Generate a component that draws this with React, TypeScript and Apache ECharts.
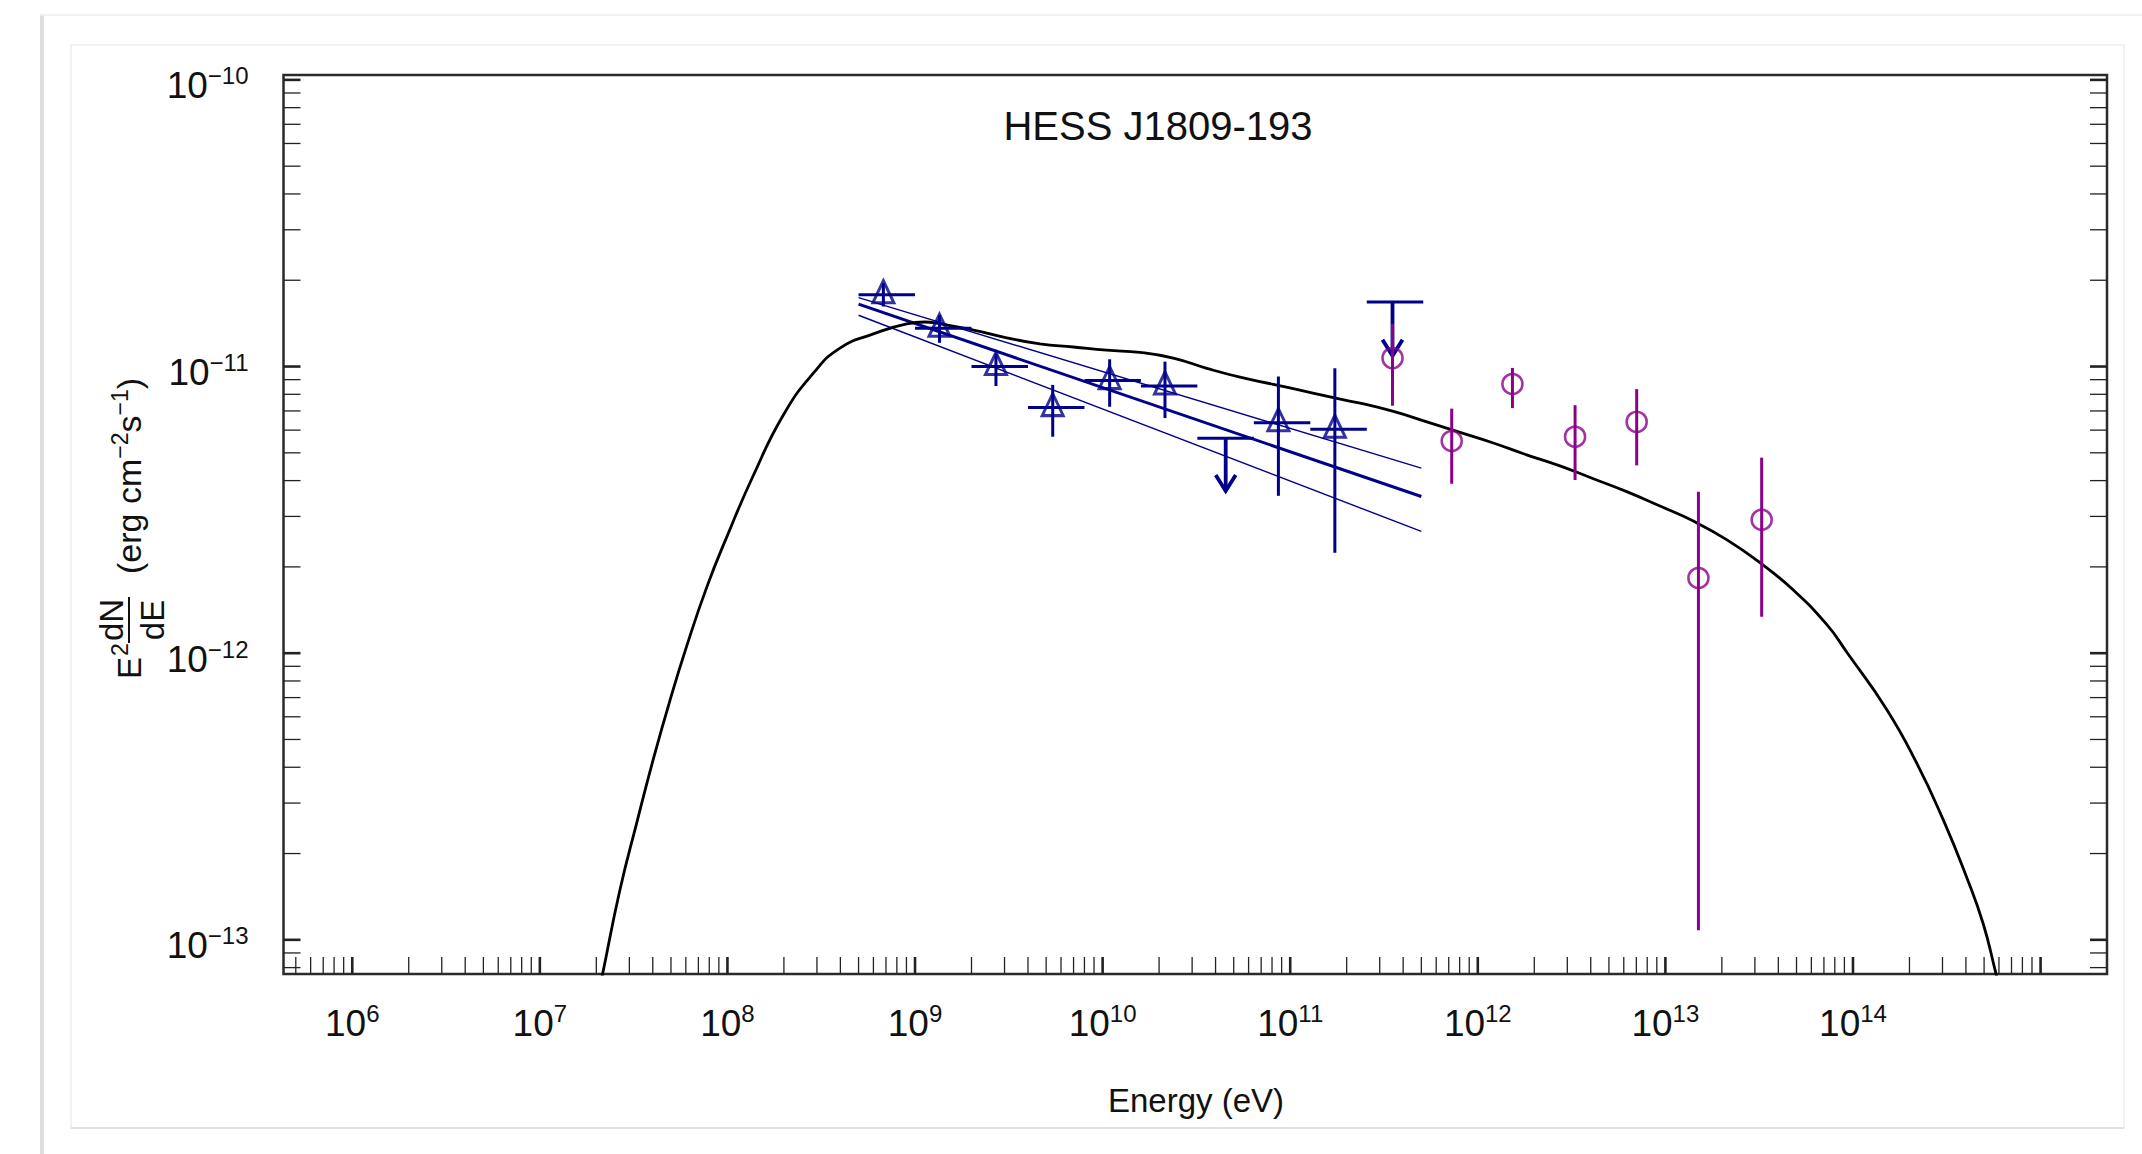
import React, { useEffect, useRef } from "react";
import * as echarts from "echarts";

// ---------------- data ----------------
// Fermi-LAT flux points (navy triangles)
const fermiEnergy = [6.78e8, 1.35e9, 2.7e9, 5.42e9, 1.09e10, 2.15e10, 8.65e10, 1.73e11];
const fermiFlux = [1.78e-11, 1.36e-11, 1.0e-11, 7.19e-12, 8.93e-12, 8.55e-12, 6.37e-12, 6.04e-12];
const fermiFluxLow = [1.62e-11, 1.21e-11, 8.55e-12, 5.69e-12, 7.24e-12, 6.61e-12, 3.54e-12, 2.24e-12];
const fermiFluxHigh = [1.95e-11, 1.51e-11, 1.11e-11, 8.63e-12, 1.06e-11, 1.04e-11, 9.23e-12, 9.86e-12];
const fermiBinLow = [5e8, 1e9, 2e9, 4e9, 8e9, 1.6e10, 6.4e10, 1.28e11];
const fermiBinHigh = [1e9, 2e9, 4e9, 8e9, 1.6e10, 3.2e10, 1.28e11, 2.56e11];

// Fermi-LAT upper limits
const ulEnergy = [4.53e10, 3.51e11];
const ulFlux = [5.62e-12, 1.68e-11];
const ulArrowEnd = [3.68e-12, 1.09e-11];
const ulBinLow = [3.2e10, 2.56e11];
const ulBinHigh = [6.4e10, 5.12e11];

// H.E.S.S. points (purple circles)
const hessEnergy = [3.51e11, 7.26e11, 1.53e12, 3.3e12, 7.03e12, 1.5e13, 3.26e13];
const hessFlux = [1.07e-11, 5.5e-12, 8.69e-12, 5.69e-12, 6.41e-12, 1.83e-12, 2.92e-12];
const hessFluxLow = [7.3e-12, 3.9e-12, 7.16e-12, 4.02e-12, 4.52e-12, 1.08e-13, 1.34e-12];
const hessFluxHigh = [1.41e-11, 7.13e-12, 9.89e-12, 7.33e-12, 8.34e-12, 3.66e-12, 4.81e-12];

// power-law fit lines (best + two bounds)
const fitEnergy = [5e8, 5e11];
const fitBest = [1.65e-11, 3.52e-12];
const fitUpper = [1.74e-11, 4.42e-12];
const fitLower = [1.51e-11, 2.66e-12];

// model SED curve (black)
const modelEnergy = [
  1.95e7, 2.16e7, 2.67e7, 3.29e7, 4.03e7, 4.94e7, 6.07e7, 7.76e7, 9.91e7, 1.37e8, 1.99e8, 2.87e8,
  3.98e8, 6.0e8, 9.04e8, 1.12e9, 1.36e9, 2.05e9, 3.08e9, 4.63e9, 6.98e9, 1.05e10, 1.58e10, 2.38e10,
  3.59e10, 5.4e10, 8.13e10, 1.22e11, 1.85e11, 2.36e11, 3.55e11, 5.35e11, 8.04e11, 1.21e12, 1.82e12,
  2.74e12, 4.13e12, 6.22e12, 9.36e12, 1.41e13, 2.12e13, 3.19e13, 4.81e13, 7.24e13, 9.25e13, 1.51e14,
  2.18e14, 3.03e14, 4.04e14, 4.94e14, 5.71e14, 6.31e14,
];
const modelFlux = [
  5.5e-14, 7.6e-14, 1.49e-13, 2.57e-13, 4.28e-13, 6.85e-13, 1.06e-12, 1.7e-12, 2.54e-12, 4.15e-12,
  6.79e-12, 9.48e-12, 1.16e-11, 1.3e-11, 1.41e-11, 1.43e-11, 1.41e-11, 1.34e-11, 1.26e-11, 1.2e-11,
  1.17e-11, 1.14e-11, 1.12e-11, 1.07e-11, 9.86e-12, 9.18e-12, 8.67e-12, 8.17e-12, 7.69e-12, 7.45e-12,
  6.97e-12, 6.41e-12, 5.89e-12, 5.41e-12, 4.92e-12, 4.5e-12, 4.06e-12, 3.66e-12, 3.26e-12, 2.89e-12,
  2.49e-12, 2.07e-12, 1.66e-12, 1.26e-12, 1.01e-12, 6.38e-13, 4.15e-13, 2.62e-13, 1.65e-13, 1.14e-13,
  7.89e-14, 6.03e-14,
];

// axes
const xMin = 4.3e5;
const xMax = 2.26e15;
const yMin = 7.6e-14;
const yMax = 1.04e-10;
const xLabelExponents = [6, 7, 8, 9, 10, 11, 12, 13, 14];
const yLabelExponents = [-13, -12, -11, -10];
const xTickDecades = [5, 6, 7, 8, 9, 10, 11, 12, 13, 14, 15];
const yTickDecades = [-14, -13, -12, -11, -10];
const tickMultipliers = [1, 2, 3, 4, 5, 6, 7, 8, 9];
const xTickLast = 1e15;

const titleText = "HESS J1809-193";
const xTitle = "Energy (eV)";

// ---------------- style ----------------
const F = "'Liberation Sans', Arial, Helvetica, sans-serif";
const BLUE = "#00008B";
const MAG = "#8B008B";
const INK = "#111111";

function makeTicks(decades: number[], lo: number, hi: number) {
  const out: number[][] = [];
  decades.forEach((d) => {
    tickMultipliers.forEach((m) => {
      const v = m * Math.pow(10, d);
      if (v > lo * 1.0001 && v < hi * 1.0001) out.push([v, m === 1 ? 1 : 0]);
    });
  });
  return out;
}

const labelRich = {
  b: { fontSize: 37, fontFamily: F, color: INK, lineHeight: 44 },
  s: { fontSize: 24, fontFamily: F, color: INK, lineHeight: 24, verticalAlign: "top" },
};

export default function App() {
  const ref = useRef<HTMLDivElement>(null);

  useEffect(() => {
    if (!ref.current) return;
    const chart = echarts.init(ref.current, undefined, { renderer: "svg" });

    const xTicks = makeTicks(xTickDecades, xMin, xTickLast).map((t) => [t[0], 1e-12, t[1]]);
    const yTicks = makeTicks(yTickDecades, yMin, yMax).map((t) => [1e8, t[0], t[1]]);

    const option: any = {
      animation: false,
      backgroundColor: "#ffffff",
      grid: {
        left: 283.5,
        top: 75,
        width: 1823.5,
        height: 899,
        show: true,
        borderColor: "#2a2a2a",
        borderWidth: 2.5,
        backgroundColor: "transparent",
      },
      xAxis: {
        type: "log",
        logBase: 10,
        min: xMin,
        max: xMax,
        axisLine: { show: false },
        axisTick: { show: false },
        axisLabel: { show: false },
        splitLine: { show: false },
      },
      yAxis: {
        type: "log",
        logBase: 10,
        min: yMin,
        max: yMax,
        axisLine: { show: false },
        axisTick: { show: false },
        axisLabel: { show: false },
        splitLine: { show: false },
      },
      graphic: [
        // page decorations (screenshot frame)
        { type: "rect", shape: { x: 40, y: 15, width: 4, height: 1139 }, style: { fill: "#dedede" }, silent: true },
        { type: "line", shape: { x1: 40, y1: 15, x2: 2142, y2: 15 }, style: { stroke: "#ececec", lineWidth: 1.5 }, silent: true },
        { type: "rect", shape: { x: 71, y: 45, width: 2053, height: 1083 }, style: { fill: "none", stroke: "#eeeeee", lineWidth: 1.5 }, silent: true },
        { type: "line", shape: { x1: 71, y1: 1128, x2: 2124, y2: 1128 }, style: { stroke: "#dddddd", lineWidth: 1.5 }, silent: true },
        // title
        {
          type: "text", x: 1158, y: 126,
          style: { text: titleText, fontSize: 40, fontFamily: F, fill: INK, align: "center", verticalAlign: "middle", textAlign: "center", textVerticalAlign: "middle" },
        },
        // x title
        {
          type: "text", x: 1196, y: 1100,
          style: { text: xTitle, fontSize: 33, fontFamily: F, fill: INK, align: "center", verticalAlign: "middle", textAlign: "center", textVerticalAlign: "middle" },
        },
        // y title: E^2 dN/dE (erg cm^-2 s^-1), rotated
        {
          type: "text", x: 129, y: 679, rotation: Math.PI / 2,
          style: { text: "E", fontSize: 33, fontFamily: F, fill: INK, align: "left", verticalAlign: "middle", textAlign: "left", textVerticalAlign: "middle" },
        },
        {
          type: "text", x: 120, y: 656, rotation: Math.PI / 2,
          style: { text: "2", fontSize: 23, fontFamily: F, fill: INK, align: "left", verticalAlign: "middle", textAlign: "left", textVerticalAlign: "middle" },
        },
        {
          type: "text", x: 111, y: 620, rotation: Math.PI / 2,
          style: { text: "dN", fontSize: 33, fontFamily: F, fill: INK, align: "center", verticalAlign: "middle", textAlign: "center", textVerticalAlign: "middle" },
        },
        { type: "line", shape: { x1: 129, y1: 597, x2: 129, y2: 643 }, style: { stroke: INK, lineWidth: 2 } },
        {
          type: "text", x: 152, y: 620, rotation: Math.PI / 2,
          style: { text: "dE", fontSize: 33, fontFamily: F, fill: INK, align: "center", verticalAlign: "middle", textAlign: "center", textVerticalAlign: "middle" },
        },
        {
          type: "text", x: 129, y: 574, rotation: Math.PI / 2,
          style: {
            text: "{a|(erg cm}{s|\u22122}{a|s}{s|\u22121}{a|)}",
            align: "left", verticalAlign: "middle", textAlign: "left", textVerticalAlign: "middle",
            fill: INK,
            rich: {
              a: { fontSize: 34, fontFamily: F, color: INK, lineHeight: 42 },
              s: { fontSize: 23, fontFamily: F, color: INK, lineHeight: 23, verticalAlign: "top" },
            },
          },
        },
      ],
      series: [
        // fit lines
        {
          type: "line", data: fitEnergy.map((e, i) => [e, fitUpper[i]]), showSymbol: false, silent: true,
          lineStyle: { color: BLUE, width: 1.4 }, z: 2,
        },
        {
          type: "line", data: fitEnergy.map((e, i) => [e, fitLower[i]]), showSymbol: false, silent: true,
          lineStyle: { color: BLUE, width: 1.4 }, z: 2,
        },
        {
          type: "line", data: fitEnergy.map((e, i) => [e, fitBest[i]]), showSymbol: false, silent: true,
          lineStyle: { color: BLUE, width: 3 }, z: 2,
        },
        // model curve
        {
          type: "line", data: modelEnergy.map((e, i) => [e, modelFlux[i]]), showSymbol: false, silent: true,
          smooth: 0.5, lineStyle: { color: "#000000", width: 2.8 }, z: 3,
        },
        // Fermi error bars
        {
          type: "custom", silent: true, z: 4,
          data: fermiEnergy.map((e, i) => [e, fermiFlux[i], fermiBinLow[i], fermiBinHigh[i], fermiFluxLow[i], fermiFluxHigh[i]]),
          renderItem: (params: any, api: any) => {
            const c = api.coord([api.value(0), api.value(1)]);
            const l = api.coord([api.value(2), api.value(1)]);
            const r = api.coord([api.value(3), api.value(1)]);
            const b = api.coord([api.value(0), api.value(4)]);
            const t = api.coord([api.value(0), api.value(5)]);
            return {
              type: "group",
              children: [
                { type: "line", shape: { x1: l[0], y1: c[1], x2: r[0], y2: c[1] }, style: { stroke: BLUE, lineWidth: 3 } },
                { type: "line", shape: { x1: c[0], y1: t[1], x2: c[0], y2: b[1] }, style: { stroke: BLUE, lineWidth: 3 } },
              ],
            };
          },
        },
        // Fermi upper limits
        {
          type: "custom", silent: true, z: 4,
          data: ulEnergy.map((e, i) => [e, ulFlux[i], ulBinLow[i], ulBinHigh[i], ulArrowEnd[i]]),
          renderItem: (params: any, api: any) => {
            const c = api.coord([api.value(0), api.value(1)]);
            const l = api.coord([api.value(2), api.value(1)]);
            const r = api.coord([api.value(3), api.value(1)]);
            const e = api.coord([api.value(0), api.value(4)]);
            return {
              type: "group",
              children: [
                { type: "line", shape: { x1: l[0], y1: c[1], x2: r[0], y2: c[1] }, style: { stroke: BLUE, lineWidth: 3 } },
                { type: "line", shape: { x1: c[0], y1: c[1], x2: c[0], y2: e[1] }, style: { stroke: BLUE, lineWidth: 3.8 } },
                {
                  type: "polyline",
                  shape: { points: [[c[0] - 10, e[1] - 16], [c[0], e[1]], [c[0] + 10, e[1] - 16]] },
                  style: { stroke: BLUE, lineWidth: 3.8, fill: "none", lineJoin: "miter" },
                },
              ],
            };
          },
        },
        // HESS error bars
        {
          type: "custom", silent: true, z: 4,
          data: hessEnergy.map((e, i) => [e, hessFlux[i], hessFluxLow[i], hessFluxHigh[i]]),
          renderItem: (params: any, api: any) => {
            const b = api.coord([api.value(0), api.value(2)]);
            const t = api.coord([api.value(0), api.value(3)]);
            return { type: "line", shape: { x1: b[0], y1: t[1], x2: b[0], y2: b[1] }, style: { stroke: MAG, lineWidth: 3 } };
          },
        },
        // Fermi triangles
        {
          type: "scatter", silent: true, z: 5,
          data: fermiEnergy.map((e, i) => [e, fermiFlux[i]]),
          symbol: "triangle", symbolSize: [21, 22], symbolOffset: [0, -3],
          itemStyle: { color: "rgba(0,0,0,0)", borderColor: BLUE, borderWidth: 3 },
        },
        // HESS circles
        {
          type: "scatter", silent: true, z: 5,
          data: hessEnergy.map((e, i) => [e, hessFlux[i]]),
          symbol: "circle", symbolSize: 20,
          itemStyle: { color: "rgba(0,0,0,0)", borderColor: MAG, borderWidth: 2.6 },
        },
        // x ticks (bottom, inside)
        {
          type: "custom", silent: true, z: 6,
          data: xTicks,
          renderItem: (params: any, api: any) => {
            const cs = params.coordSys;
            const x = api.coord([api.value(0), api.value(1)])[0];
            const yb = cs.y + cs.height;
            return {
              type: "line",
              shape: { x1: x, y1: yb, x2: x, y2: yb - 17 },
              style: { stroke: "#222222", lineWidth: api.value(2) ? 2.6 : 1.3 },
            };
          },
        },
        // y ticks (left & right, inside)
        {
          type: "custom", silent: true, z: 6,
          data: yTicks,
          renderItem: (params: any, api: any) => {
            const cs = params.coordSys;
            const y = api.coord([api.value(0), api.value(1)])[1];
            const w = api.value(2) ? 2.6 : 1.3;
            return {
              type: "group",
              children: [
                { type: "line", shape: { x1: cs.x, y1: y, x2: cs.x + 17, y2: y }, style: { stroke: "#222222", lineWidth: w } },
                { type: "line", shape: { x1: cs.x + cs.width, y1: y, x2: cs.x + cs.width - 17, y2: y }, style: { stroke: "#222222", lineWidth: w } },
              ],
            };
          },
        },
        // x tick labels
        {
          type: "custom", silent: true, z: 6,
          data: xLabelExponents.map((k) => [Math.pow(10, k), 1e-12, k]),
          renderItem: (params: any, api: any) => {
            const cs = params.coordSys;
            const x = api.coord([api.value(0), api.value(1)])[0];
            const k = api.value(2);
            return {
              type: "text",
              x: x,
              y: cs.y + cs.height + 49,
              style: {
                text: "{b|10}{s|" + k + "}",
                rich: labelRich,
                align: "center", verticalAlign: "middle", textAlign: "center", textVerticalAlign: "middle",
                fill: INK,
              },
            };
          },
        },
        // y tick labels
        {
          type: "custom", silent: true, z: 6,
          data: yLabelExponents.map((k) => [1e8, Math.pow(10, k), k]),
          renderItem: (params: any, api: any) => {
            const cs = params.coordSys;
            const y = api.coord([api.value(0), api.value(1)])[1];
            const k = api.value(2);
            return {
              type: "text",
              x: cs.x - 35,
              y: y + 6,
              style: {
                text: "{b|10}{s|\u2212" + Math.abs(k) + "}",
                rich: labelRich,
                align: "right", verticalAlign: "middle", textAlign: "right", textVerticalAlign: "middle",
                fill: INK,
              },
            };
          },
        },
      ],
    };

    chart.setOption(option);
    return () => {
      chart.dispose();
    };
  }, []);

  return (
    <div
      ref={ref}
      style={{ position: "fixed", left: 0, top: 0, width: 2142, height: 1154, background: "#ffffff" }}
    />
  );
}
